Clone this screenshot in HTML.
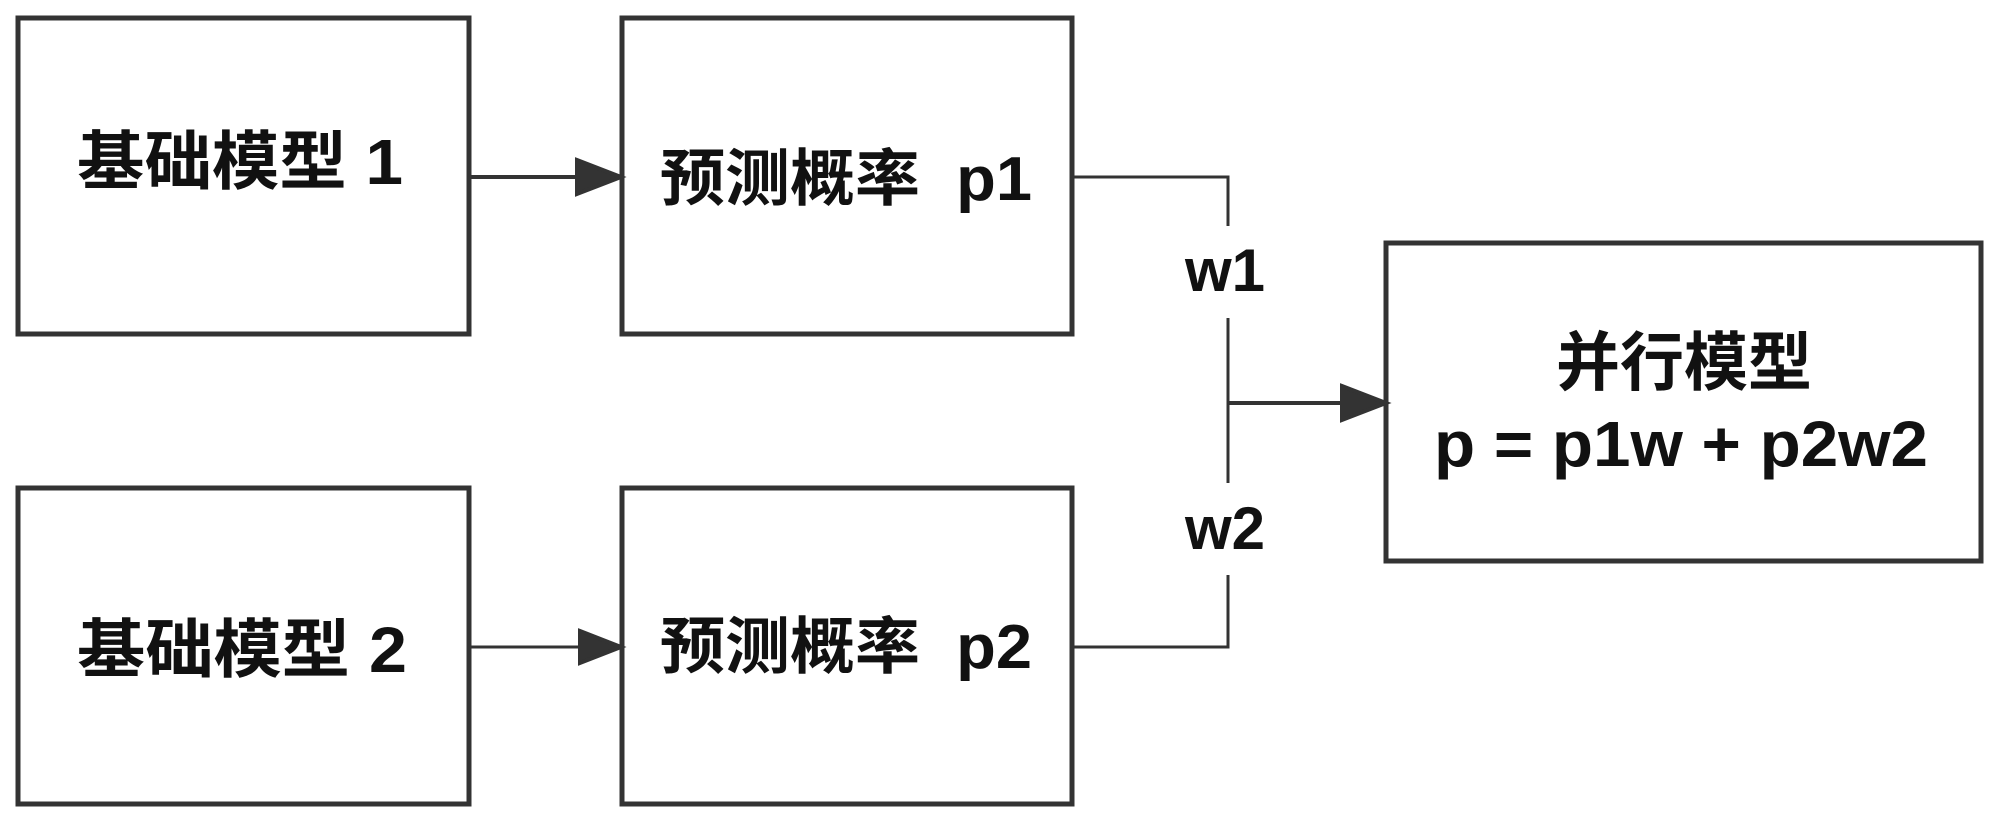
<!DOCTYPE html>
<html><head><meta charset="utf-8"><style>
html,body{margin:0;padding:0;background:#fff;}
svg{display:block;}
text{font-family:"Liberation Sans","Noto Sans CJK SC",sans-serif;font-weight:bold;fill:#111;}
</style></head><body>
<svg width="2000" height="823" viewBox="0 0 2000 823" xmlns="http://www.w3.org/2000/svg">
<defs><marker id="a" markerWidth="10" markerHeight="10" refX="10" refY="5" orient="auto" markerUnits="userSpaceOnUse" viewBox="0 0 10 10"><path d="M0,0 L10,5 L0,10 z" fill="#333"/></marker></defs>
<g fill="none" stroke="#333" stroke-width="5">
<rect x="18" y="18" width="451" height="316"/>
<rect x="622" y="18" width="450" height="316"/>
<rect x="18" y="488" width="451" height="316"/>
<rect x="622" y="488" width="450" height="316"/>
<rect x="1386" y="243" width="595" height="318"/>
</g>
<g stroke="#333" stroke-width="4" fill="#333">
<line x1="469" y1="177" x2="578" y2="177"/>
<path d="M577,160 L621,177 L577,194 z"/>
<line x1="469" y1="647" x2="578" y2="647" stroke-width="3"/>
<path d="M580,631 L621,647 L580,663 z"/>
<line x1="1343" y1="403" x2="1228" y2="403"/>
<path d="M1342,386 L1386,403 L1342,420 z"/>
</g>
<g stroke="#333" stroke-width="3" fill="none">
<polyline points="1073,177 1228,177 1228,226"/>
<line x1="1228" y1="318" x2="1228" y2="483"/>
<polyline points="1228,575 1228,647 1073,647"/>
</g>
<text x="77" y="184" font-size="64" textLength="326" lengthAdjust="spacingAndGlyphs">基础模型 1</text>
<text x="77" y="672" font-size="64" textLength="330" lengthAdjust="spacingAndGlyphs">基础模型 2</text>
<text x="660" y="200" font-size="62" textLength="372" lengthAdjust="spacingAndGlyphs">预测概率 &#160;p1</text>
<text x="660" y="668" font-size="62" textLength="372" lengthAdjust="spacingAndGlyphs">预测概率 &#160;p2</text>
<text x="1225" y="291" font-size="60" text-anchor="middle">w1</text>
<text x="1225" y="549" font-size="60" text-anchor="middle">w2</text>
<text x="1684" y="385" font-size="64" text-anchor="middle">并行模型</text>
<text x="1434" y="466" font-size="64" textLength="494" lengthAdjust="spacingAndGlyphs">p = p1w + p2w2</text>
</svg>
</body></html>
